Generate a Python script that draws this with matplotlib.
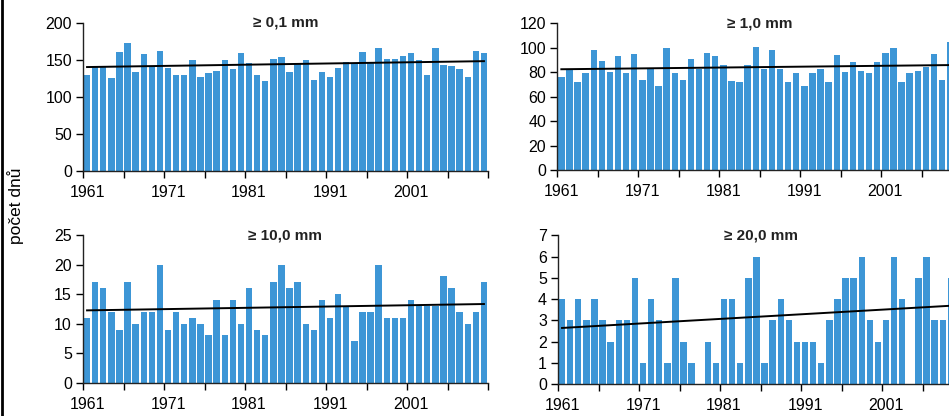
import numpy as np
import matplotlib
matplotlib.use("Agg")
import matplotlib.pyplot as plt
from matplotlib.lines import Line2D

plt.rcParams['font.family'] = ['Liberation Sans', 'DejaVu Sans']

YEARS = list(range(1961, 2011))

# days with precipitation >= threshold, one value per year 1961-2010
D01 = [130, 142, 140, 125, 161, 173, 134, 158, 141, 162,
       139, 130, 130, 150, 127, 132, 135, 150, 138, 159,
       146, 130, 122, 151, 154, 134, 145, 150, 123, 134,
       127, 139, 147, 145, 161, 145, 166, 151, 151, 155,
       159, 150, 130, 166, 143, 142, 138, 127, 162, 159]
D10 = [76, 83, 72, 79, 98, 89, 80, 93, 79, 95,
       74, 83, 69, 100, 79, 74, 91, 83, 96, 93,
       86, 73, 72, 86, 101, 83, 98, 83, 72, 79,
       69, 79, 83, 72, 94, 80, 88, 81, 79, 88,
       96, 100, 72, 79, 81, 84, 95, 74, 105, 90]
D100 = [11, 17, 16, 12, 9, 17, 10, 12, 12, 20,
        9, 12, 10, 11, 10, 8, 14, 8, 14, 10,
        16, 9, 8, 17, 20, 16, 17, 10, 9, 14,
        11, 15, 13, 7, 12, 12, 20, 11, 11, 11,
        14, 13, 13, 13, 18, 16, 12, 10, 12, 17]
D200 = [4, 3, 4, 3, 4, 3, 2, 3, 3, 5,
        1, 4, 3, 1, 5, 2, 1, 0, 2, 1,
        4, 4, 1, 5, 6, 1, 3, 4, 3, 2,
        2, 2, 1, 3, 4, 5, 5, 6, 3, 2,
        3, 6, 4, 0, 5, 6, 3, 3, 5, 4]

TITLES = ["≥ 0,1 mm", "≥ 1,0 mm", "≥ 10,0 mm", "≥ 20,0 mm"]
SERIES = [D01, D10, D100, D200]
YMAX = [200, 120, 25, 7]
YSTEP = [50, 20, 5, 1]

W, H = 949, 416
# axes boxes in pixels: left, top, right, bottom
BOXES = [(83, 22.7, 488, 171),
         (557.3, 23.3, 962.3, 170),
         (83, 235, 488, 382.7),
         (558, 235.3, 963, 384.3)]

BAR = '#3d96d6'

fig = plt.figure(figsize=(W / 100, H / 100), dpi=100)

for i in range(4):
    l, t, r, b = BOXES[i]
    ax = fig.add_axes([l / W, 1 - b / H, (r - l) / W, (b - t) / H])
    vals = SERIES[i]
    x = np.arange(len(vals))
    ax.bar(x, vals, width=0.8, color=BAR)
    k, q = np.polyfit(x, vals, 1)
    ax.plot([x[0], x[-1]], [q, k * x[-1] + q], color='black', lw=1.4)
    ax.set_xlim(-0.5, len(vals) - 0.5)
    ax.set_ylim(0, YMAX[i])
    ax.set_yticks(np.arange(0, YMAX[i] + 0.1, YSTEP[i]))
    ax.set_xticks(x[::10])
    ax.set_xticklabels([str(YEARS[j]) for j in x[::10]])
    ax.set_xticks(np.arange(-0.5, len(vals), 5), minor=True)
    ax.tick_params(axis='x', which='major', length=0, pad=10, labelsize=11.5)
    ax.tick_params(axis='x', which='minor', length=5, width=1, direction='out')
    ax.tick_params(axis='y', length=5, width=1, direction='out', pad=3, labelsize=11.5)
    for s in ['top', 'right']:
        ax.spines[s].set_visible(False)
    for s in ['left', 'bottom']:
        ax.spines[s].set_linewidth(1)
        ax.spines[s].set_color('#222222')
    ax.text(0.5, 1.0, TITLES[i], transform=ax.transAxes, ha='center', va='center',
            fontsize=11, fontweight='bold', color='#222222')

fig.text(0.016, 0.505, "počet dnů", rotation=90, ha='center', va='center', fontsize=12.5)
fig.add_artist(Line2D([2 / W, 2 / W], [0, 1], color='black', lw=2, transform=fig.transFigure))

plt.savefig("out.png", dpi=100)
